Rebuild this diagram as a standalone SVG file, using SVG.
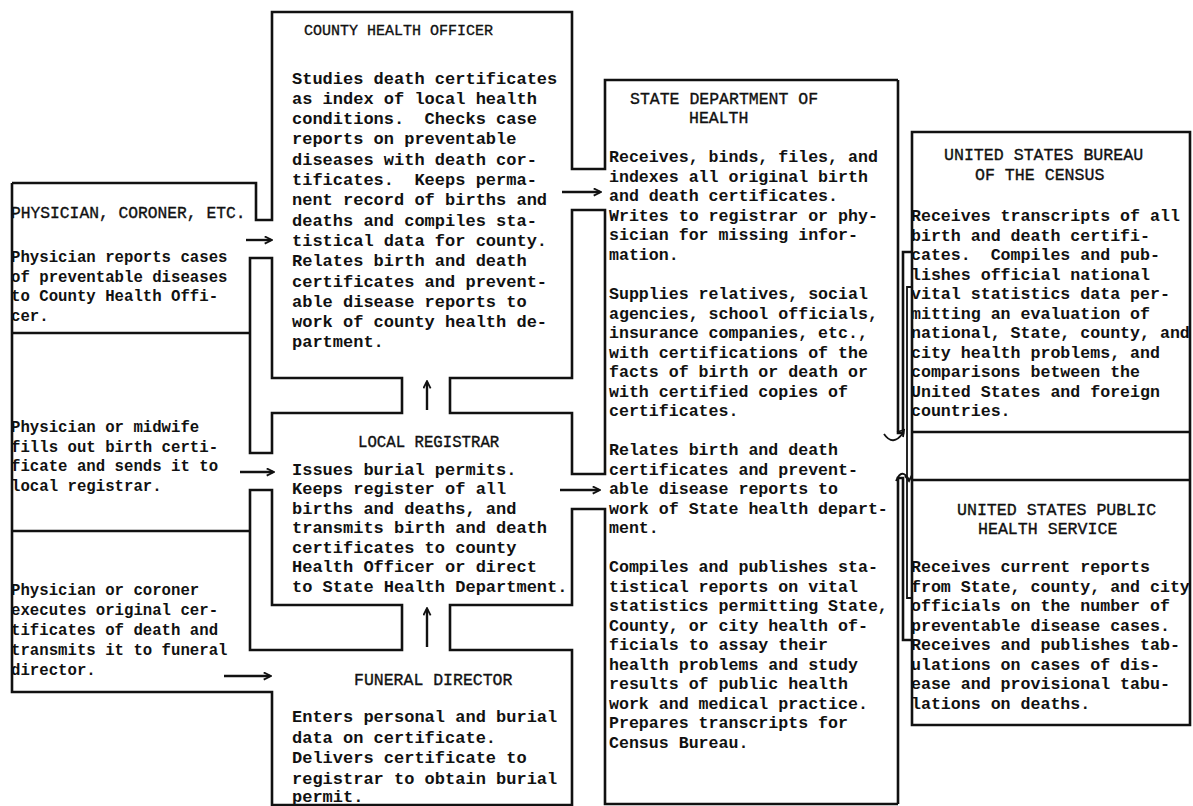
<svg xmlns="http://www.w3.org/2000/svg" width="1193" height="806" viewBox="0 0 1193 806">
<defs>
<style>
.o{fill:none;stroke:#111;stroke-width:2.6;stroke-linejoin:miter}
.s{fill:none;stroke:#111;stroke-width:1.8}
.a{fill:none;stroke:#111;stroke-width:2.4;marker-end:url(#ah)}
text{font-family:"Liberation Mono","Courier New",monospace;fill:#111;white-space:pre}
.l{font-size:15.7px;font-weight:bold}
.m{font-size:17px;font-weight:bold}
.r{font-size:16.6px;font-weight:bold}
.t{font-weight:normal;stroke:#111;stroke-width:0.35}
</style>
<marker id="ah" viewBox="0 0 10 10" refX="8" refY="5" markerWidth="9" markerHeight="9" orient="auto" markerUnits="userSpaceOnUse">
<path d="M1,1 L9,5 L1,9" fill="none" stroke="#111" stroke-width="2"/>
</marker>
</defs>
<rect width="1193" height="806" fill="#fff"/>

<g id="connectors">
<path class="o" d="M12,183 H256 V220 H272 V12 H572 V169 H605 V80 H898"/>
<path class="o" d="M898,804 H605 V509 H572 V605 H450 V650 H572 V805 H272 V692 H12 V183"/>
<path class="o" d="M250,258 H272 V378 H402 V413 H272 V453 H250 Z"/>
<path class="o" d="M572,210 H605 V474 H572 V413 H450 V378 H572 Z"/>
<path class="o" d="M250,490 H272 V605 H402 V650 H250 Z"/>
<path class="o" d="M12,333 H250 M12,531 H250"/>
<path class="o" d="M898,80 V433 H903 V252 H912"/>
<path class="o" d="M912,640 H903 V478 H898 V804"/>
<path class="s" d="M912,287 H907 V598 H912"/>
<path class="o" d="M912,132 H1190 V725 H912 Z M912,432 H1190 M912,480 H1190"/>
<path class="a" d="M246,240 H271"/>
<path class="a" d="M562,192 H600"/>
<path class="a" d="M240,472 H273"/>
<path class="a" d="M560,490 H599"/>
<path class="a" d="M224,676 H270"/>
<path class="a" d="M427,410 V382"/>
<path class="a" d="M427,647 V609"/>
<path class="s" d="M884,434 Q893,447 903,433 M897,432 L904,430 L903,437"/>
<path class="s" d="M896,481 Q902,467 909,480 M905,476 L909,481 L912,475"/>
</g>

<g id="physician">
<text class="t" x="11" y="218" font-size="16.3">PHYSICIAN, CORONER, ETC.</text>
<text class="l" x="11" y="262">Physician reports cases</text>
<text class="l" x="11" y="282">of preventable diseases</text>
<text class="l" x="11" y="301">to County Health Offi-</text>
<text class="l" x="11" y="321">cer.</text>
</g>

<g id="midwife">
<text class="l" x="11" y="432">Physician or midwife</text>
<text class="l" x="11" y="452">fills out birth certi-</text>
<text class="l" x="11" y="471">ficate and sends it to</text>
<text class="l" x="11" y="491">local registrar.</text>
</g>

<g id="coroner">
<text class="l" x="11" y="595">Physician or coroner</text>
<text class="l" x="11" y="615">executes original cer-</text>
<text class="l" x="11" y="635">tificates of death and</text>
<text class="l" x="11" y="655">transmits it to funeral</text>
<text class="l" x="11" y="675">director.</text>
</g>

<g id="county">
<text class="t" x="304" y="35" font-size="15">COUNTY HEALTH OFFICER</text>
<text class="m" x="292" y="83.5">Studies death certificates</text>
<text class="m" x="292" y="103.8">as index of local health</text>
<text class="m" x="292" y="124.1">conditions.  Checks case</text>
<text class="m" x="292" y="144.4">reports on preventable</text>
<text class="m" x="292" y="164.7">diseases with death cor-</text>
<text class="m" x="292" y="185">tificates.  Keeps perma-</text>
<text class="m" x="292" y="205.3">nent record of births and</text>
<text class="m" x="292" y="225.6">deaths and compiles sta-</text>
<text class="m" x="292" y="245.9">tistical data for county.</text>
<text class="m" x="292" y="266.2">Relates birth and death</text>
<text class="m" x="292" y="286.5">certificates and prevent-</text>
<text class="m" x="292" y="306.8">able disease reports to</text>
<text class="m" x="292" y="327.1">work of county health de-</text>
<text class="m" x="292" y="347.4">partment.</text>
</g>

<g id="registrar">
<text class="t" x="358" y="447" font-size="15.7">LOCAL REGISTRAR</text>
<text class="m" x="292" y="475">Issues burial permits.</text>
<text class="m" x="292" y="494">Keeps register of all</text>
<text class="m" x="292" y="514">births and deaths, and</text>
<text class="m" x="292" y="533">transmits birth and death</text>
<text class="m" x="292" y="553">certificates to county</text>
<text class="m" x="292" y="572">Health Officer or direct</text>
<text class="m" x="292" y="592">to State Health Department.</text>
</g>

<g id="funeral">
<text class="t" x="354" y="685" font-size="16.5">FUNERAL DIRECTOR</text>
<text class="m" x="292" y="722">Enters personal and burial</text>
<text class="m" x="292" y="743">data on certificate.</text>
<text class="m" x="292" y="763">Delivers certificate to</text>
<text class="m" x="292" y="784">registrar to obtain burial</text>
<text class="m" x="292" y="802">permit.</text>
</g>

<g id="state">
<text class="t" x="630" y="104" font-size="16.5">STATE DEPARTMENT OF</text>
<text class="t" x="689" y="123" font-size="16.5">HEALTH</text>
<text class="r" x="609" y="162">Receives, binds, files, and</text>
<text class="r" x="609" y="181.5">indexes all original birth</text>
<text class="r" x="609" y="201">and death certificates.</text>
<text class="r" x="609" y="220.5">Writes to registrar or phy-</text>
<text class="r" x="609" y="240">sician for missing infor-</text>
<text class="r" x="609" y="260">mation.</text>
<text class="r" x="609" y="299">Supplies relatives, social</text>
<text class="r" x="609" y="318.5">agencies, school officials,</text>
<text class="r" x="609" y="338">insurance companies, etc.,</text>
<text class="r" x="609" y="357.5">with certifications of the</text>
<text class="r" x="609" y="377">facts of birth or death or</text>
<text class="r" x="609" y="396.5">with certified copies of</text>
<text class="r" x="609" y="416">certificates.</text>
<text class="r" x="609" y="455">Relates birth and death</text>
<text class="r" x="609" y="474.5">certificates and prevent-</text>
<text class="r" x="609" y="494">able disease reports to</text>
<text class="r" x="609" y="513.5">work of State health depart-</text>
<text class="r" x="609" y="533">ment.</text>
<text class="r" x="609" y="572">Compiles and publishes sta-</text>
<text class="r" x="609" y="591.5">tistical reports on vital</text>
<text class="r" x="609" y="611">statistics permitting State,</text>
<text class="r" x="609" y="630.5">County, or city health of-</text>
<text class="r" x="609" y="650">ficials to assay their</text>
<text class="r" x="609" y="669.5">health problems and study</text>
<text class="r" x="609" y="689">results of public health</text>
<text class="r" x="609" y="708.5">work and medical practice.</text>
<text class="r" x="609" y="728">Prepares transcripts for</text>
<text class="r" x="609" y="748">Census Bureau.</text>
</g>

<g id="census">
<text class="t" x="944" y="160" font-size="16.6">UNITED STATES BUREAU</text>
<text class="t" x="975" y="180" font-size="16.6">OF THE CENSUS</text>
<text class="r" x="911" y="221">Receives transcripts of all</text>
<text class="r" x="911" y="240.5">birth and death certifi-</text>
<text class="r" x="911" y="260">cates.  Compiles and pub-</text>
<text class="r" x="911" y="279.5">lishes official national</text>
<text class="r" x="911" y="299">vital statistics data per-</text>
<text class="r" x="911" y="318.5">mitting an evaluation of</text>
<text class="r" x="911" y="338">national, State, county, and</text>
<text class="r" x="911" y="357.5">city health problems, and</text>
<text class="r" x="911" y="377">comparisons between the</text>
<text class="r" x="911" y="396.5">United States and foreign</text>
<text class="r" x="911" y="416">countries.</text>
</g>

<g id="phs">
<text class="t" x="957" y="515" font-size="16.6">UNITED STATES PUBLIC</text>
<text class="t" x="978" y="534" font-size="16.6">HEALTH SERVICE</text>
<text class="r" x="911" y="572">Receives current reports</text>
<text class="r" x="911" y="591.5">from State, county, and city</text>
<text class="r" x="911" y="611">officials on the number of</text>
<text class="r" x="911" y="630.5">preventable disease cases.</text>
<text class="r" x="911" y="650">Receives and publishes tab-</text>
<text class="r" x="911" y="669.5">ulations on cases of dis-</text>
<text class="r" x="911" y="689">ease and provisional tabu-</text>
<text class="r" x="911" y="708.5">lations on deaths.</text>
</g>
</svg>
